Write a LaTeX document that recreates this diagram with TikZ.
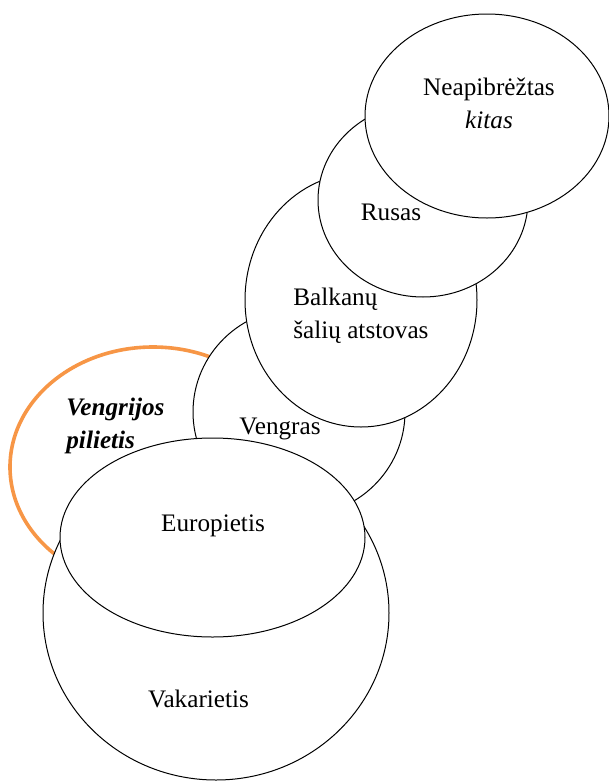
\documentclass[tikz,border=0pt]{standalone}
\usepackage{fontspec}
\setmainfont{Liberation Serif}
\usetikzlibrary{positioning}
\definecolor{vorange}{HTML}{F79646}
\begin{document}
\begin{tikzpicture}[x=0.5pt,y=-0.5pt,
		bubble/.style={draw=black,fill=white,line width=.5pt},
		txt/.style={inner sep=0pt,font=\fontsize{12.6}{16.5}\selectfont}]
		\useasboundingbox (0,0) rectangle (609,782);
		\draw[vorange,line width=1.8pt,fill=white] (153,467) ellipse (143 and 120);
		\draw[bubble] (299,412) ellipse (106 and 104);
		\draw[bubble] (361,300) ellipse (116 and 127);
		\draw[bubble] (423,200) ellipse (105 and 97);
		\draw[bubble] (487,116) ellipse (122 and 102);
		\draw[bubble] (216,613) ellipse (173 and 167);
		\draw[bubble] (212.5,537.5) ellipse (152.5 and 99.5);
		\node[txt,align=center] (neapibr) at (489,103) {Neapibrėžtas\\\textit{kitas}};
		\node[txt] (rusas) at (391,212.5) {Rusas};
		\node[txt,align=left,anchor=west] (balkanu) at (293,316) {Balkanų\\šalių atstovas};
		\node[txt,align=left,anchor=west] (pilietis) at (66,426) {\textbf{\textit{Vengrijos}}\\\textbf{\textit{pilietis}}};
		\node[txt] (vengras) at (280,429) {Vengras};
		\node[txt] (europ) at (213,526) {Europietis};
		\node[txt] (vakar) at (198.5,699) {Vakarietis};
	\end{tikzpicture}
\end{document}
